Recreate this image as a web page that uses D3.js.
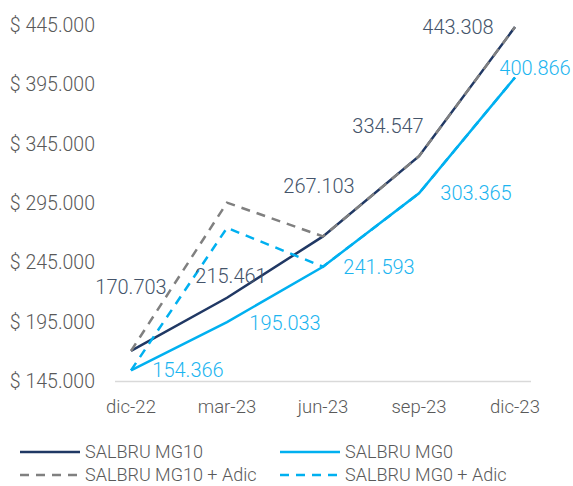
<!DOCTYPE html>
<html>
<head>
<meta charset="utf-8">
<script src="https://cdn.jsdelivr.net/npm/d3@7"></script>
<style>
  body { margin: 0; background: #fff; }
  svg { display: block; font-family: Roboto, "Open Sans", sans-serif; font-weight: 300; }
</style>
</head>
<body>
<svg id="chart" width="573" height="486"></svg>
<script>
// --- data ---
const periods = ['dic-22', 'mar-23', 'jun-23', 'sep-23', 'dic-23'];
const mg10 = [170703, 215461, 267103, 334547, 443308];
const mg0 = [154366, 195033, 241593, 303365, 400866];
const mg10Adic = [170703, 295500, 267103, 334547, 443308];
const mg0Adic = [154366, 274300, 241593, 303365, 400866];
const yTicks = [145000, 195000, 245000, 295000, 345000, 395000, 445000];

// label offsets from the point (dx, dy), as in the original
const mg10LabelOffsets = [[0, -64], [4, -22], [-4, -50], [-31, -30], [-57, 0]];
const mg0LabelOffsets = [[57, 0], [58, 1], [56, 0], [57, 0], [20, -9]];

const navy = '#203864';
const cyan = '#00b0f0';
const grey = '#808080';

const svg = d3.select('#chart');

const x = d3.scalePoint().domain(periods).range([115, 531]).padding(1 / 6);
const y = d3.scaleLinear().domain([145000, 445000]).range([381.5, 25]);

const fmt = v => d3.format(',')(v).replace(/,/g, '.');

// y tick labels (no axis line)
svg.append('g').selectAll('text')
    .data(yTicks)
    .join('text')
    .attr('x', 95)
    .attr('y', d => y(d))
    .attr('dy', '0.35em')
    .attr('text-anchor', 'end')
    .attr('fill', '#595959')
    .style('font-size', '19.5px')
    .text(d => '$ ' + fmt(d));

// baseline
svg.append('line')
    .attr('x1', x.range()[0]).attr('x2', x.range()[1])
    .attr('y1', y(145000)).attr('y2', y(145000))
    .attr('stroke', '#d9d9d9').attr('stroke-width', 1.5);

// x labels
svg.append('g').selectAll('text')
    .data(periods)
    .join('text')
    .attr('x', d => x(d))
    .attr('y', 407)
    .attr('dy', '0.35em')
    .attr('text-anchor', 'middle')
    .attr('fill', '#595959')
    .style('font-size', '18.5px')
    .text(d => d);

const line = d3.line().x((d, i) => x(periods[i])).y(d => y(d));

const series = [
    { name: 'SALBRU MG10', values: mg10, color: navy, dash: null },
    { name: 'SALBRU MG0', values: mg0, color: cyan, dash: null },
    { name: 'SALBRU MG10 + Adic', values: mg10Adic, color: grey, dash: '9,7' },
    { name: 'SALBRU MG0 + Adic', values: mg0Adic, color: cyan, dash: '9,7' }
];

series.forEach(s => {
    svg.append('path')
        .datum(s.values)
        .attr('d', line)
        .attr('fill', 'none')
        .attr('stroke', s.color)
        .attr('stroke-width', 2.5)
        .attr('stroke-dasharray', s.dash);
});

// data labels
function drawLabels(values, offsets, color) {
    svg.append('g').selectAll('text')
        .data(values)
        .join('text')
        .attr('x', (d, i) => x(periods[i]) + offsets[i][0])
        .attr('y', (d, i) => y(d) + offsets[i][1])
        .attr('dy', '0.35em')
        .attr('text-anchor', 'middle')
        .attr('fill', color)
        .style('font-size', '20px')
        .text(d => fmt(d));
}
drawLabels(mg10, mg10LabelOffsets, '#44546a');
drawLabels(mg0, mg0LabelOffsets, '#1cb5f0');

// legend
const legendPos = [[20, 452], [280, 452], [20, 475], [280, 475]];
const legend = svg.append('g').selectAll('g')
    .data(series)
    .join('g')
    .attr('transform', (d, i) => `translate(${legendPos[i][0]},${legendPos[i][1]})`);

legend.append('line')
    .attr('x1', 0).attr('x2', 60)
    .attr('stroke', d => d.color)
    .attr('stroke-width', 2.5)
    .attr('stroke-dasharray', d => d.dash);

legend.append('text')
    .attr('x', 65)
    .attr('dy', '0.35em')
    .attr('fill', '#595959')
    .style('font-size', '18px')
    .text(d => d.name);
</script>
</body>
</html>
